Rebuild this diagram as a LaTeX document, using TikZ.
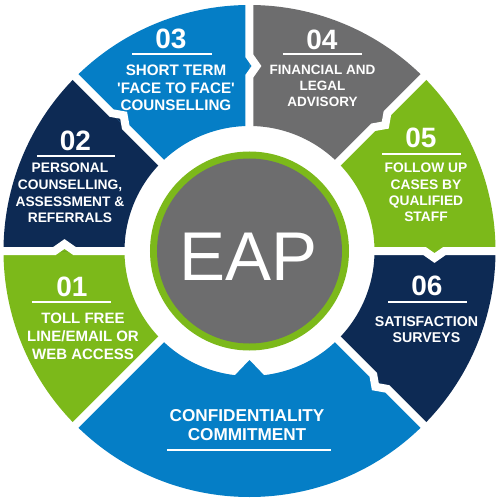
\documentclass[tikz,border=0pt]{standalone}
\usepackage{fontspec}
\newfontfamily\lblfont{Liberation Sans}
\usetikzlibrary{calc}

\definecolor{eapgreen}{RGB}{124,185,26}
\definecolor{eapnavy}{RGB}{13,42,84}
\definecolor{eapblue}{RGB}{5,126,198}
\definecolor{eapgray}{RGB}{109,109,110}

\tikzset{
  num/.style={text=white, inner sep=0pt, font=\lblfont\bfseries\fontsize{28}{28}\selectfont},
  lbl/.style={text=white, inner sep=0pt, anchor=north, align=center},
  rule/.style={white, line width=2.6pt},
  gap/.style={white, line width=8pt}
}
\newcommand{\sector}[3]{\fill[#1] (#2:246) arc[start angle=#2, end angle=#3, radius=246pt] -- (#3:125) arc[start angle=#3, end angle=#2, radius=125pt] -- cycle;}
\newcommand{\gapline}[2]{\fill[#2] (#1:175) -- ($(#1:185)+(#1-90:7)$) -- (#1:195) -- cycle;
  \draw[gap] (#1:118) -- (#1:175) -- ($(#1:185)+(#1-90:7)$) -- (#1:195) -- (#1:252);}

\begin{document}
\begin{tikzpicture}[x=1pt, y=1pt]
    \fill[white] (-249.5,-250) rectangle (248.5,251);
    \useasboundingbox (-249.5,-250) rectangle (248.5,251);

    \sector{eapgreen}{225}{180}
    \sector{eapnavy}{180}{135}
    \sector{eapblue}{135}{90}
    \sector{eapgray}{90}{45}
    \sector{eapgreen}{45}{0}
    \sector{eapnavy}{0}{-45}
    \sector{eapblue}{-45}{-135}
    \fill[eapblue] (263:126) -- (270:109) -- (277:126) -- cycle;

    \gapline{180}{eapgreen}
    \gapline{135}{eapnavy}
    \gapline{90}{eapblue}
    \gapline{45}{eapgray}
    \gapline{0}{eapgreen}
    \gapline{-45}{eapnavy}
    \draw[gap] (-135:118) -- (-135:252);

    \fill[eapgreen] (0,0) circle[radius=99.5pt];
    \fill[eapgray] (0,0) circle[radius=92.5pt];
    \node[text=white, inner sep=0pt, anchor=base, font=\lblfont\fontsize{69}{69}\selectfont] (eap) at (-1,-29) {EAP};

    \node[num] (n01) at (-177.5,-36) {01};
    \draw[rule] (-217.5,-51) -- (-138.5,-51);
    \node[lbl, font=\lblfont\bfseries\fontsize{15}{18}\selectfont] (t01) at (-166.5,-62) {TOLL FREE\\LINE/EMAIL OR\\WEB ACCESS};

    \node[num] (n02) at (-174,110) {02};
    \draw[rule] (-212.5,95) -- (-134.5,95);
    \node[lbl, font=\lblfont\bfseries\fontsize{13.8}{16.7}\selectfont] (t02) at (-179.5,88) {PERSONAL\\COUNSELLING,\\ASSESSMENT \&\\REFERRALS};

    \node[num] (n03) at (-78.5,212) {03};
    \draw[rule] (-117.5,197) -- (-37.5,197);
    \node[lbl, font=\lblfont\bfseries\fontsize{15.2}{17.5}\selectfont] (t03) at (-73.5,186) {SHORT TERM\\'FACE TO FACE'\\COUNSELLING};

    \node[num] (n04) at (72.5,211) {04};
    \draw[rule] (33.5,197) -- (112.5,197);
    \node[lbl, font=\lblfont\bfseries\fontsize{13.5}{16}\selectfont] (t04) at (73,186) {FINANCIAL AND\\LEGAL\\ADVISORY};

    \node[num] (n05) at (171.5,113) {05};
    \draw[rule] (132.5,97) -- (211.5,97);
    \node[lbl, font=\lblfont\bfseries\fontsize{13.8}{16.3}\selectfont] (t05) at (176.5,88) {FOLLOW UP\\CASES BY\\QUALIFIED\\STAFF};

    \node[num] (n06) at (177.5,-35) {06};
    \draw[rule] (138.5,-51) -- (217.5,-51);
    \node[lbl, font=\lblfont\bfseries\fontsize{14.2}{16}\selectfont] (t06) at (177,-65) {SATISFACTION\\SURVEYS};

    \node[lbl, font=\lblfont\bfseries\fontsize{17.2}{19}\selectfont] (tconf) at (-2.5,-158) {CONFIDENTIALITY\\COMMITMENT};
    \draw[rule] (-82.5,-199) -- (81.5,-199);
\end{tikzpicture}
\end{document}
